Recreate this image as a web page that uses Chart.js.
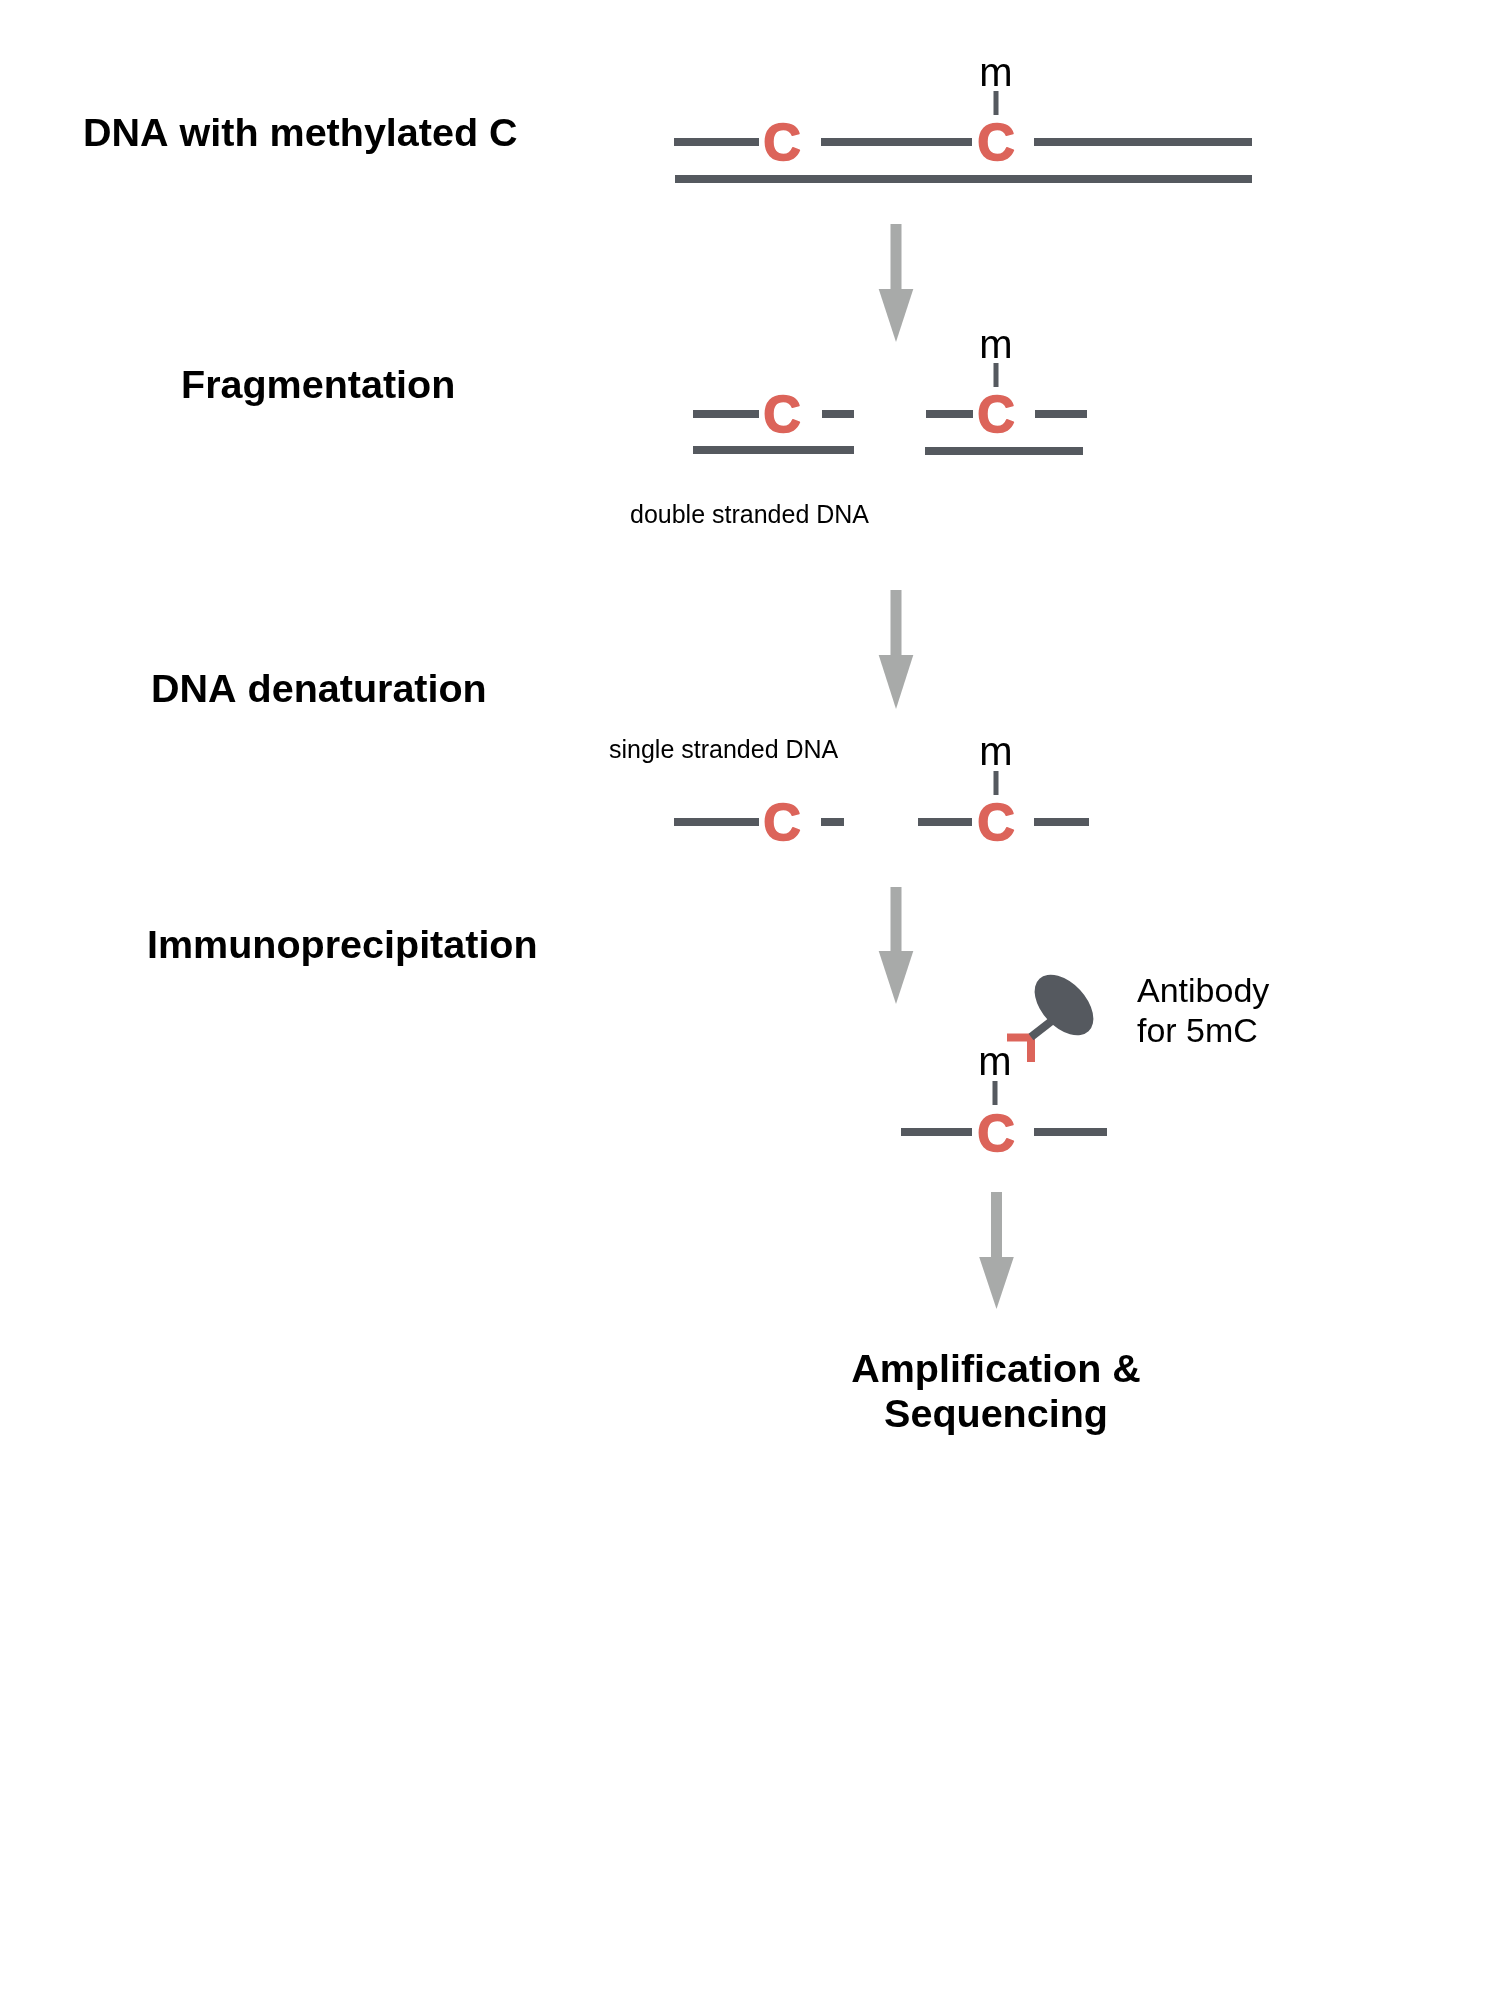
<!DOCTYPE html>
<html>
<head>
<meta charset="utf-8">
<script src="https://cdn.jsdelivr.net/npm/chart.js@4.4.1/dist/chart.umd.min.js"></script>
<style>
  html, body { margin: 0; padding: 0; background: #ffffff; }
  #wrap { width: 1500px; height: 2000px; position: relative; }
</style>
</head>
<body>
<div id="wrap"><canvas id="medip"></canvas></div>
<script>
// diagram units: x 0..1500 left to right, y 0..2000 top to bottom
const strandSegments = [
  // [xStart, xEnd, y]
  [674, 759, 142], [821, 972, 142], [1034, 1252, 142], [675, 1252, 179],
  [693, 759, 414], [822, 854, 414], [926, 973, 414], [1035, 1087, 414],
  [693, 854, 450], [925, 1083, 451],
  [674, 759, 822], [821, 844, 822], [918, 972, 822], [1034, 1089, 822],
  [901, 972, 1132], [1034, 1107, 1132]
];
const cytosineX = [782, 996, 782, 996, 782, 996, 996];
const cytosineY = [141, 141, 413, 413, 821, 821, 1132];

const methylX = [996, 996, 996, 995];
const methylBaseline = [86, 358, 765, 1075];
const methylLinkTop = [91, 363, 771, 1081];
const methylLinkBottom = [115, 387, 795, 1105];

const arrowX = [896, 896, 896, 996.5];
const arrowTop = [224, 590, 887, 1192];
const arrowHeadBase = [289, 655, 951, 1257];
const arrowTip = [342, 709, 1004, 1309];

const stepLabels = ['DNA with methylated C', 'Fragmentation', 'DNA denaturation', 'Immunoprecipitation'];
const stepLabelX = [83, 181, 151, 147];
const stepLabelY = [146, 398, 702, 958];

const noteLabels = ['double stranded DNA', 'single stranded DNA'];
const noteX = [630, 609];
const noteY = [523, 758];

const finalLabel = ['Amplification &', 'Sequencing'];
const finalX = 996;
const finalY = [1382, 1427];

const antibodyLabel = ['Antibody', 'for 5mC'];
const antibodyLabelX = 1137;
const antibodyLabelY = [1002, 1042];
// antibody: head ellipse centre, stem, and red binding hook
const antibodyHead = { x: 1064, y: 1005 };
const antibodyStem = [[1031, 1037], [1058, 1016]];
const antibodyHook = [[1007, 1037.5], [1035, 1037.5], [1031, 1034], [1031, 1062]];

const GREY = '#55595f';
const RED = '#dc645a';
const ARROW = '#a8aaa9';
const FONT = '"Liberation Sans", Arial, Helvetica, sans-serif';

let datasets = [];

strandSegments.forEach(s => {
  datasets.push({
    data: [{ x: s[0], y: s[2] }, { x: s[1], y: s[2] }],
    borderColor: GREY, borderWidth: 8, borderCapStyle: 'butt'
  });
});

methylX.forEach((x, i) => {
  datasets.push({
    data: [{ x: x, y: methylLinkTop[i] }, { x: x, y: methylLinkBottom[i] }],
    borderColor: GREY, borderWidth: 5, borderCapStyle: 'butt'
  });
});

arrowX.forEach((x, i) => {
  datasets.push({
    data: [{ x: x, y: arrowTop[i] }, { x: x, y: arrowHeadBase[i] + 1 }],
    borderColor: ARROW, borderWidth: 11, borderCapStyle: 'butt'
  });
});

// antibody stem + hook
datasets.push({
  data: antibodyStem.map(p => ({ x: p[0], y: p[1] })),
  borderColor: GREY, borderWidth: 8, borderCapStyle: 'butt'
});
datasets.push({
  data: antibodyHook.slice(0, 2).map(p => ({ x: p[0], y: p[1] })),
  borderColor: RED, borderWidth: 8, borderCapStyle: 'butt'
});
datasets.push({
  data: antibodyHook.slice(2).map(p => ({ x: p[0], y: p[1] })),
  borderColor: RED, borderWidth: 8, borderCapStyle: 'butt'
});

datasets.forEach(d => {
  d.showLine = true;
  d.pointRadius = 0;
  d.pointHoverRadius = 0;
  d.fill = false;
  d.tension = 0;
});

const diagramPlugin = {
  id: 'diagram',
  afterDatasetsDraw(chart) {
    const ctx = chart.ctx;
    const xs = chart.scales.x, ys = chart.scales.y;
    const px = v => xs.getPixelForValue(v);
    const py = v => ys.getPixelForValue(v);
    ctx.save();

    // arrow heads
    ctx.fillStyle = ARROW;
    arrowX.forEach((x, i) => {
      ctx.beginPath();
      ctx.moveTo(px(x - 17.3), py(arrowHeadBase[i]));
      ctx.lineTo(px(x + 17.3), py(arrowHeadBase[i]));
      ctx.lineTo(px(x), py(arrowTip[i]));
      ctx.closePath();
      ctx.fill();
    });

    // antibody head
    ctx.fillStyle = GREY;
    ctx.beginPath();
    ctx.ellipse(px(antibodyHead.x), py(antibodyHead.y), 36, 22, 47 * Math.PI / 180, 0, Math.PI * 2);
    ctx.fill();

    // cytosines (a thin stroke makes them as heavy as the original)
    ctx.fillStyle = RED;
    ctx.strokeStyle = RED;
    ctx.lineWidth = 1.6;
    ctx.lineJoin = 'round';
    ctx.textAlign = 'center';
    ctx.textBaseline = 'alphabetic';
    ctx.font = 'bold 52px ' + FONT;
    cytosineX.forEach((x, i) => {
      ctx.fillText('C', px(x), py(cytosineY[i] + 18.5));
      ctx.strokeText('C', px(x), py(cytosineY[i] + 18.5));
    });

    // methyl marks
    ctx.fillStyle = '#000000';
    ctx.font = '40px ' + FONT;
    methylX.forEach((x, i) => {
      ctx.fillText('m', px(x), py(methylBaseline[i]));
    });

    // final step
    ctx.font = 'bold 39.5px ' + FONT;
    finalLabel.forEach((t, i) => ctx.fillText(t, px(finalX), py(finalY[i])));

    ctx.textAlign = 'left';
    stepLabels.forEach((t, i) => ctx.fillText(t, px(stepLabelX[i]), py(stepLabelY[i])));

    ctx.font = '25px ' + FONT;
    noteLabels.forEach((t, i) => ctx.fillText(t, px(noteX[i]), py(noteY[i])));

    ctx.font = '34px ' + FONT;
    antibodyLabel.forEach((t, i) => ctx.fillText(t, px(antibodyLabelX), py(antibodyLabelY[i])));

    ctx.restore();
  }
};

new Chart(document.getElementById('medip'), {
  type: 'scatter',
  data: { datasets: datasets },
  options: {
    responsive: true,
    maintainAspectRatio: false,
    animation: false,
    layout: { padding: 0 },
    plugins: { legend: { display: false }, tooltip: { enabled: false } },
    scales: {
      x: { type: 'linear', min: 0, max: 1500, display: false },
      y: { type: 'linear', min: 0, max: 2000, reverse: true, display: false }
    }
  },
  plugins: [diagramPlugin]
});
</script>
</body>
</html>
